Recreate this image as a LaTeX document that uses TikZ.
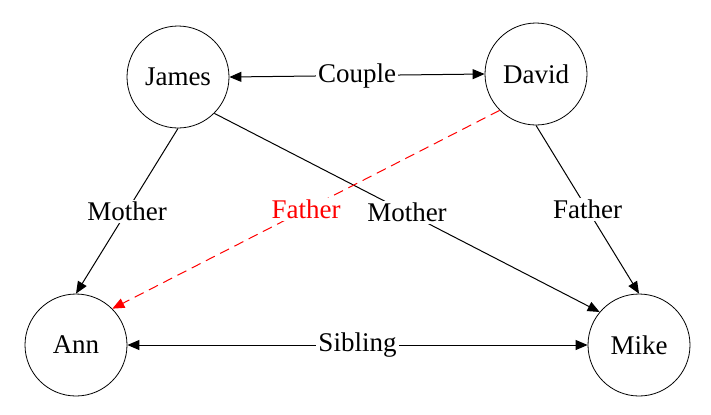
\documentclass[tikz,border=0pt]{standalone}
\usepackage{fontspec}
\setmainfont{Liberation Serif}
\usetikzlibrary{arrows.meta}

\begin{document}
\begin{tikzpicture}[x=0.5pt, y=-0.5pt,
		person/.style={draw, circle, line width=0.4pt, minimum size=51pt, inner sep=0pt, font=\fontsize{13.5}{15}\selectfont},
		rel/.style={line width=0.5pt, -{Triangle[length=6pt, width=5pt]}},
		both/.style={line width=0.5pt, {Triangle[length=6pt, width=5pt]}-{Triangle[length=6pt, width=5pt]}},
		lbl/.style={midway, fill=white, inner sep=1pt, font=\fontsize{13.5}{15}\selectfont}]
		\useasboundingbox (0,0) rectangle (711,414);
		
		% Personnes
		\node[person] (james) at (178,77) {James};
		\node[person] (david) at (536,74) {David};
		\node[person] (ann) at (76,345) {Ann};
		\node[person] (mike) at (639,345) {Mike};
		
		% Liens
		\draw[both] (james.east) -- node[lbl] {Couple} (david.west);
		\draw[both] (ann.east) -- node[lbl] {Sibling} (mike.west);
		\draw[rel] (james.south) -- node[lbl] {Mother} (ann.north);
		\draw[rel] (james.south east) -- node[lbl] {Mother} (mike.140);
		\draw[rel] (david.south) -- node[lbl] {Father} (mike.north);
		\draw[rel, red, dash pattern=on 5pt off 3pt] (david.south west) -- node[lbl, text=red] {Father} (ann.north east);
		\end{tikzpicture}
\end{document}
